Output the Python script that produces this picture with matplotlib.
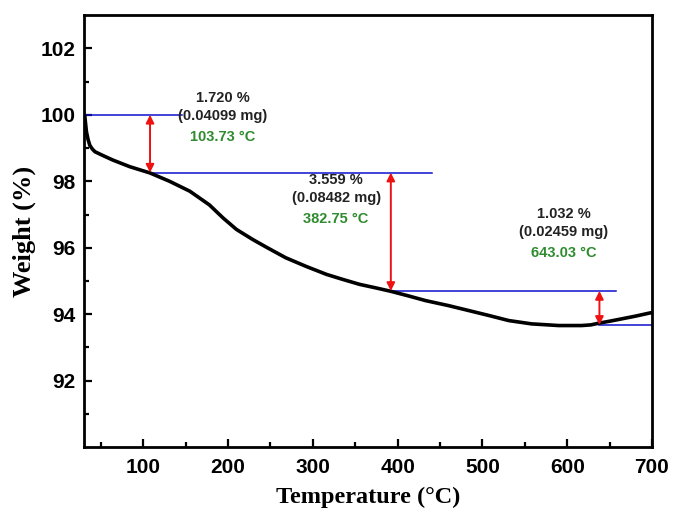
import numpy as np
import matplotlib.pyplot as plt

# TGA curve
temp = [30, 31, 33, 35, 37, 40, 43, 52, 64, 84, 108, 131, 155, 178, 194, 210,
        229, 245, 268, 292, 316, 335, 355, 373, 392, 413, 433, 460, 484, 508,
        531, 558, 590, 617, 628, 637, 650, 664, 680, 696, 700]
weight = [100.0, 99.98, 99.49, 99.25, 99.08, 98.97, 98.89, 98.78, 98.64, 98.44,
          98.25, 98.0, 97.7, 97.29, 96.9, 96.55, 96.25, 96.02, 95.70, 95.44,
          95.2, 95.05, 94.9, 94.8, 94.69, 94.55, 94.41, 94.26, 94.11, 93.96,
          93.81, 93.71, 93.66, 93.66, 93.68, 93.73, 93.79, 93.86, 93.94, 94.03,
          94.05]

# step levels (blue guide lines): level, x start, x end
levels = [100.0, 98.26, 94.70, 93.68]
level_x0 = [30, 108, 392, 638]
level_x1 = [146, 441, 657, 700]

# arrows for each loss step
arrow_x = [108, 392, 638]
arrow_top = [100.0, 98.26, 94.70]
arrow_bot = [98.26, 94.70, 93.68]

loss_pct = ['1.720 %', '3.559 %', '1.032 %']
loss_mg = ['(0.04099 mg)', '(0.08482 mg)', '(0.02459 mg)']
loss_temp = ['103.73 °C', '382.75 °C', '643.03 °C']
label_x = [193.5, 327.5, 596]
label_y = [100.5, 98.03, 97.02]

plt.rcParams['font.family'] = ['Liberation Sans', 'DejaVu Sans']

fig = plt.figure(figsize=(6.82, 5.2), dpi=100)
ax = fig.add_axes([0.123, 0.140, 0.833, 0.831])

ax.plot(temp, weight, color='black', lw=2.6, zorder=3,
        solid_joinstyle='round', solid_capstyle='round')

for lv, a, b in zip(levels, level_x0, level_x1):
    ax.plot([a, b], [lv, lv], color='#1010d0', lw=1.1, zorder=2)

for x, t, b in zip(arrow_x, arrow_top, arrow_bot):
    ax.annotate('', xy=(x, b), xytext=(x, t),
                arrowprops=dict(arrowstyle='<|-|>', color='#ee1111', lw=1.4,
                                mutation_scale=12, shrinkA=0, shrinkB=0),
                zorder=4)

for x, y, p, m, t in zip(label_x, label_y, loss_pct, loss_mg, loss_temp):
    ax.text(x, y, p, ha='center', va='center', fontsize=10.5,
            fontweight='bold', color='#222222')
    ax.text(x, y - 0.54, m, ha='center', va='center', fontsize=10.5,
            fontweight='bold', color='#222222')
    ax.text(x, y - 1.17, t, ha='center', va='center', fontsize=10.5,
            fontweight='bold', color='#2e8b2e')

ax.set_xlim(30, 700)
ax.set_ylim(90, 103)
ax.set_xticks([100, 200, 300, 400, 500, 600, 700])
ax.set_xticks(np.arange(50, 700, 100), minor=True)
ax.set_yticks([92, 94, 96, 98, 100, 102])
ax.set_yticks([91, 93, 95, 97, 99, 101], minor=True)
ax.tick_params(which='both', direction='in', width=1.6, labelsize=15)
ax.tick_params(which='major', length=6)
ax.tick_params(which='minor', length=3.5)
ax.tick_params(axis='x', pad=8)
ax.tick_params(axis='y', pad=6)
for lab in ax.get_xticklabels() + ax.get_yticklabels():
    lab.set_fontweight('bold')
for s in ax.spines.values():
    s.set_linewidth(2)

ax.set_xlabel('Temperature (°C)', fontsize=17.5, fontweight='bold',
              family='Liberation Serif', labelpad=7)
ax.set_ylabel('Weight (%)', fontsize=19, fontweight='bold',
              family='Liberation Serif', labelpad=3)

fig.savefig('out.png', dpi=100)
